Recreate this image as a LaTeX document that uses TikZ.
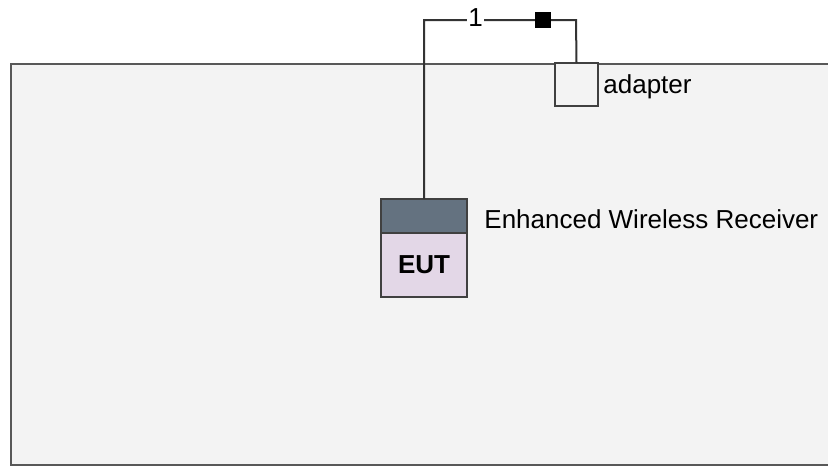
\documentclass[tikz,border=0pt]{standalone}
\usepackage{fontspec}
\setmainfont{Liberation Sans}
\usetikzlibrary{positioning}
\definecolor{framegray}{RGB}{243,243,243}
\definecolor{frameline}{RGB}{88,88,88}
\definecolor{eutslate}{RGB}{100,114,128}
\definecolor{eutlilac}{RGB}{227,215,231}

\begin{document}
\begin{tikzpicture}[x=0.5pt,y=-0.5pt,font=\fontsize{13}{16}\selectfont,
    eutbox/.style={draw=black!75,line width=1pt,minimum width=43pt,inner sep=0,outer sep=0},
    wire/.style={draw=black!80,line width=1pt}]
    \useasboundingbox (0,0) rectangle (828,468);
    \clip (0,0) rectangle (828,468);
    % room
    \draw[draw=frameline,line width=1.25pt,fill=framegray] (11,64) rectangle (850,465);
    % equipment
    \node[eutbox,fill=eutslate,minimum height=17pt] (eutHead) at (424,216) {};
    \node[eutbox,fill=eutlilac,minimum height=32pt,below=0pt of eutHead,font=\fontsize{13}{16}\selectfont\bfseries] (eut) {EUT};
    \node[anchor=base west,inner sep=0] (eutName) at (484,228) {Enhanced Wireless Receiver};
    \node[eutbox,fill=framegray,minimum width=21.5pt,minimum height=21.5pt] (adapter) at (576.5,84.5) {};
    \node[anchor=base west,inner sep=0] (adapterName) at (603,93) {adapter};
    % cable
    \coordinate (bendL) at (424,20);
    \coordinate (bendR) at (576,20);
    \draw[wire] (eutHead.north) -- (bendL) -- (bendR) -- (adapter.north);
    \node[fill=white,inner xsep=0.5pt,inner ysep=0] (cableNo) at (475.5,17.5) {1};
    \node[fill=black,minimum size=8pt,inner sep=0] (plug) at (542.5,20) {};
\end{tikzpicture}
\end{document}
